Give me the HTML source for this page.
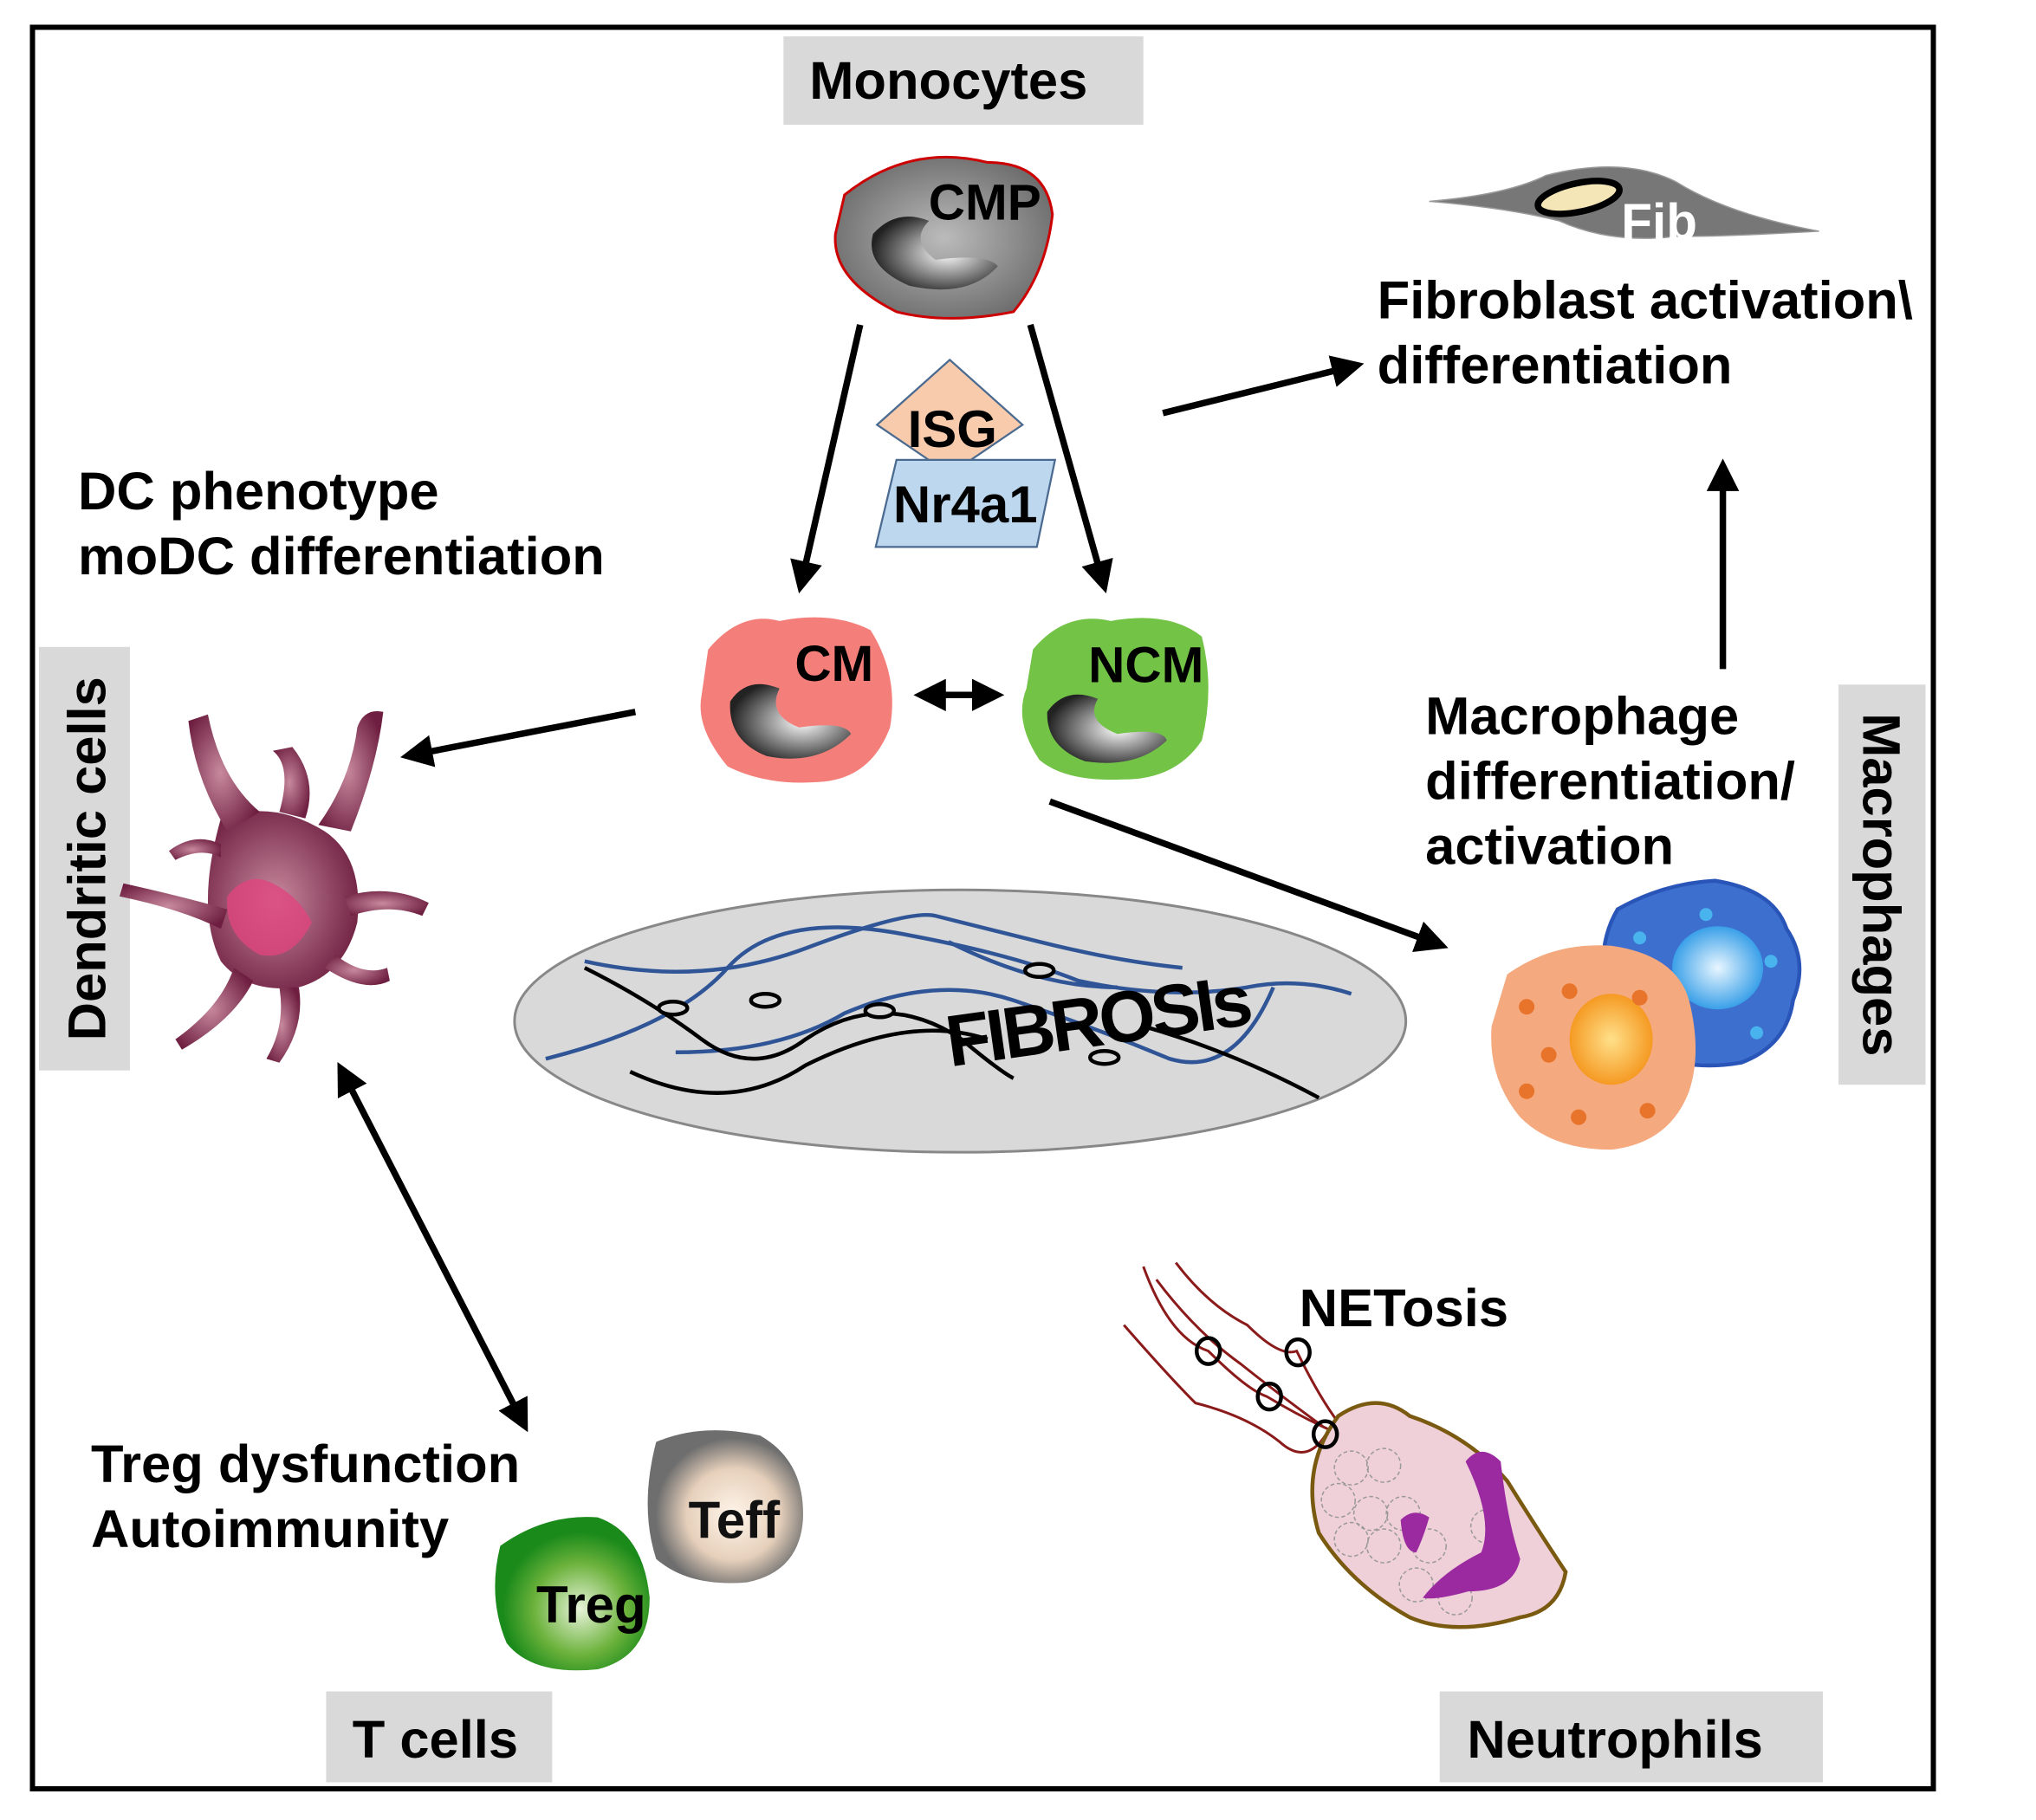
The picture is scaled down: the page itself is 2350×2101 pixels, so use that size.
<!DOCTYPE html>
<html><head><meta charset="utf-8"><style>
html,body{margin:0;padding:0;background:#fff;}
svg{display:block;}
text{font-family:"Liberation Sans",Arial,sans-serif;font-weight:bold;fill:#000;}
</style></head><body>
<svg width="2350" height="2101" viewBox="0 0 1567 1401" preserveAspectRatio="none" xmlns="http://www.w3.org/2000/svg">
<defs>
<marker id="ah" viewBox="0 0 10 10" refX="8" refY="5" markerWidth="5" markerHeight="5" orient="auto-start-reverse"><path d="M0,0 L10,5 L0,10 z" fill="#000"/></marker>
<radialGradient id="nuc" cx="0.6" cy="0.5" r="0.6"><stop offset="0" stop-color="#fff"/><stop offset="1" stop-color="#222"/></radialGradient>
<radialGradient id="cmpg" cx="0.5" cy="0.5" r="0.6"><stop offset="0" stop-color="#bbb"/><stop offset="1" stop-color="#666"/></radialGradient>
<radialGradient id="dcg" cx="0.45" cy="0.5" r="0.6"><stop offset="0" stop-color="#c7899d"/><stop offset="1" stop-color="#6e1e40"/></radialGradient>
<radialGradient id="teffg" cx="0.55" cy="0.55" r="0.5"><stop offset="0" stop-color="#fff5ea"/><stop offset="0.6" stop-color="#e6d0bb"/><stop offset="1" stop-color="#6e6e6e"/></radialGradient>
<radialGradient id="tregg" cx="0.55" cy="0.6" r="0.5"><stop offset="0" stop-color="#e6f3d8"/><stop offset="0.6" stop-color="#6cb23c"/><stop offset="1" stop-color="#1a8a1a"/></radialGradient>
<radialGradient id="org" cx="0.5" cy="0.5" r="0.5"><stop offset="0" stop-color="#ffe08a"/><stop offset="1" stop-color="#f59a23"/></radialGradient>
<radialGradient id="blg" cx="0.5" cy="0.5" r="0.5"><stop offset="0" stop-color="#e8f6ff"/><stop offset="1" stop-color="#3aa0e8"/></radialGradient>
</defs>
<rect x="25" y="21" width="1463" height="1356" fill="none" stroke="#000" stroke-width="4"/>

<rect x="603" y="28" width="277" height="68" fill="#d9d9d9"/>
<text x="730" y="76" font-size="41" text-anchor="middle">Monocytes</text>
<rect x="30" y="498" width="70" height="326" fill="#d9d9d9"/>
<text transform="translate(81,661) rotate(-90)" font-size="41" text-anchor="middle">Dendritic cells</text>
<rect x="1415" y="527" width="67" height="308" fill="#d9d9d9"/>
<text transform="translate(1434,681) rotate(90)" font-size="41" text-anchor="middle">Macrophages</text>
<rect x="251" y="1302" width="174" height="70" fill="#d9d9d9"/>
<text x="335" y="1353" font-size="41" text-anchor="middle">T cells</text>
<rect x="1108" y="1302" width="295" height="70" fill="#d9d9d9"/>
<text x="1243" y="1353" font-size="41" text-anchor="middle">Neutrophils</text>

<text x="1060" y="245" font-size="41">Fibroblast activation\</text>
<text x="1060" y="295" font-size="41">differentiation</text>
<text x="60" y="392" font-size="41">DC phenotype</text>
<text x="60" y="442" font-size="41">moDC differentiation</text>
<text x="1097" y="565" font-size="41">Macrophage</text>
<text x="1097" y="615" font-size="41">differentiation/</text>
<text x="1097" y="665" font-size="41">activation</text>
<text x="70" y="1141" font-size="41">Treg dysfunction</text>
<text x="70" y="1191" font-size="41">Autoimmunity</text>
<text x="1000" y="1021" font-size="41">NETosis</text>

<path d="M650,150 Q700,110 760,125 Q805,125 810,165 Q805,210 780,240 Q730,250 690,240 Q640,215 643,180 Z" fill="url(#cmpg)" stroke="#c00" stroke-width="2"/>
<path d="M672,180 Q690,160 715,170 Q700,185 720,200 Q760,195 768,205 Q745,230 700,220 Q665,205 672,180 Z" fill="url(#nuc)"/>
<text x="758" y="169" font-size="39" text-anchor="middle">CMP</text>

<path d="M1100,155 Q1160,150 1190,135 Q1250,120 1290,140 Q1330,165 1400,178 Q1330,182 1290,182 Q1240,188 1200,170 Q1160,160 1100,155 Z" fill="#777" stroke="#999"/>
<ellipse cx="1215" cy="152" rx="32" ry="11" transform="rotate(-12 1215 152)" fill="#f5e6b8" stroke="#000" stroke-width="5"/>
<text x="1277" y="184" font-size="39" text-anchor="middle" style="fill:#fff">Fib</text>

<polygon points="675,327 731,277 787,327 731,365" fill="#f8cbad" stroke="#4a6a90" stroke-width="1.5"/>
<text x="733" y="344" font-size="40" text-anchor="middle">ISG</text>
<polygon points="690,354 812,354 798,421 674,421" fill="#bdd7ee" stroke="#4a6a90" stroke-width="1.5"/>
<text x="743" y="402" font-size="40" text-anchor="middle">Nr4a1</text>

<g stroke="#000" stroke-width="5" fill="none" marker-end="url(#ah)">
<line x1="662" y1="250" x2="616" y2="452"/>
<line x1="793" y1="250" x2="850" y2="452"/>
<line x1="895" y1="318" x2="1045" y2="281"/>
<line x1="1326" y1="515" x2="1326" y2="358"/>
<line x1="489" y1="548" x2="313" y2="582"/>
<line x1="808" y1="617" x2="1110" y2="728"/>
<line x1="708" y1="535" x2="768" y2="535" marker-start="url(#ah)"/>
<line x1="262" y1="822" x2="404" y2="1098" marker-start="url(#ah)"/>
</g>

<path d="M545,500 Q570,470 600,478 Q640,470 670,485 Q692,520 685,560 Q670,600 630,602 Q590,605 560,590 Q535,560 540,535 Z" fill="#f47f7a"/>
<path d="M562,540 Q575,520 600,530 Q590,550 615,560 Q650,555 655,565 Q630,590 590,582 Q560,570 562,540 Z" fill="url(#nuc)"/>
<text x="642" y="524" font-size="39" text-anchor="middle">CM</text>
<path d="M795,500 Q820,470 855,478 Q900,470 925,490 Q935,530 925,570 Q905,600 865,600 Q820,602 800,585 Q780,555 790,530 Z" fill="#72c346"/>
<path d="M806,548 Q820,528 845,538 Q835,555 860,565 Q895,560 898,570 Q875,592 835,586 Q805,575 806,548 Z" fill="url(#nuc)"/>
<text x="882" y="525" font-size="39" text-anchor="middle">NCM</text>

<g fill="url(#dcg)" stroke="none">
<path d="M170,630 Q210,615 250,640 Q280,660 275,710 Q265,750 230,760 Q190,765 170,740 Q150,700 170,630 Z"/>
<path d="M175,640 Q150,600 145,555 L160,550 Q170,600 200,625 Z"/>
<path d="M215,625 Q225,590 210,578 L225,575 Q245,600 235,630 Z"/>
<path d="M245,635 Q270,600 275,560 Q280,545 295,548 Q290,590 270,640 Z"/>
<path d="M265,690 Q300,680 330,695 L325,705 Q300,695 270,705 Z"/>
<path d="M175,700 Q140,690 95,680 L92,690 Q140,700 170,715 Z"/>
<path d="M170,650 Q150,640 130,655 L135,662 Q155,652 170,660 Z"/>
<path d="M180,745 Q170,775 135,800 L140,808 Q180,785 195,755 Z"/>
<path d="M215,760 Q220,790 205,815 L215,818 Q235,790 230,760 Z"/>
<path d="M250,745 Q280,765 300,755 L298,745 Q280,752 258,735 Z"/>
</g>
<path d="M175,690 Q190,670 210,680 Q230,690 240,710 Q225,740 200,735 Q172,720 175,690 Z" fill="#e0457e" opacity="0.8"/>

<ellipse cx="739" cy="786" rx="343" ry="101" fill="#d9d9d9" stroke="#888" stroke-width="2"/>
<g fill="none" stroke="#2f5597" stroke-width="3">
<path d="M420,815 Q520,790 560,745 Q600,700 700,720 Q780,735 830,755 Q900,770 960,760 Q1000,752 1040,765"/>
<path d="M450,740 Q540,760 620,730 Q700,700 720,705 Q760,715 800,725 Q860,740 910,745"/>
<path d="M520,810 Q600,810 650,780 Q720,750 780,770 Q840,790 900,815 Q950,830 980,760"/>
<path d="M730,725 Q800,760 860,760"/>
</g>
<g fill="none" stroke="#000" stroke-width="3">
<path d="M450,745 Q500,770 540,800 Q580,830 620,800 Q680,760 740,800 Q770,825 780,830"/>
<path d="M485,825 Q560,860 620,820 Q700,780 760,800"/>
<path d="M880,790 Q950,810 1015,845"/>
</g>
<g fill="#d9d9d9" stroke="#000" stroke-width="3">
<ellipse cx="518" cy="776" rx="11" ry="5"/>
<ellipse cx="589" cy="770" rx="11" ry="5"/>
<ellipse cx="677" cy="778" rx="11" ry="5"/>
<ellipse cx="800" cy="747" rx="11" ry="5"/>
<ellipse cx="850" cy="814" rx="11" ry="5"/>
</g>
<text x="845" y="805" font-size="56" text-anchor="middle" transform="rotate(-8 845 790)" style="letter-spacing:-3px">FIBROSIs</text>

<path d="M1245,700 Q1280,680 1320,678 Q1365,685 1375,715 Q1392,740 1380,770 Q1375,805 1340,818 Q1300,825 1270,810 Q1240,790 1235,760 Q1230,725 1245,700 Z" fill="#3d6fcf" stroke="#2a55b8" stroke-width="3"/>
<ellipse cx="1322" cy="745" rx="35" ry="32" fill="url(#blg)"/>
<path d="M1160,750 Q1195,725 1240,728 Q1290,735 1300,770 Q1310,810 1300,840 Q1285,880 1240,885 Q1195,885 1170,860 Q1145,830 1148,790 Z" fill="#f4a97e"/>
<ellipse cx="1240" cy="800" rx="32" ry="35" fill="url(#org)"/>
<g fill="#e8732a"><circle cx="1175" cy="775" r="6"/><circle cx="1208" cy="763" r="6"/><circle cx="1262" cy="768" r="6"/><circle cx="1192" cy="812" r="6"/><circle cx="1175" cy="840" r="6"/><circle cx="1215" cy="860" r="6"/><circle cx="1268" cy="855" r="6"/></g>
<g fill="#49b3ee"><circle cx="1262" cy="722" r="5"/><circle cx="1313" cy="704" r="5"/><circle cx="1363" cy="740" r="5"/><circle cx="1352" cy="795" r="5"/></g>

<path d="M505,1110 Q540,1095 585,1105 Q620,1125 618,1170 Q615,1210 575,1218 Q530,1222 505,1200 Q492,1160 505,1110 Z" fill="url(#teffg)"/>
<text x="565" y="1184" font-size="40" text-anchor="middle" style="fill:#111">Teff</text>
<path d="M385,1190 Q420,1165 460,1168 Q495,1180 500,1230 Q500,1275 460,1285 Q410,1290 390,1265 Q375,1230 385,1190 Z" fill="url(#tregg)"/>
<text x="455" y="1249" font-size="40" text-anchor="middle">Treg</text>

<g fill="none" stroke="#8b1a1a" stroke-width="2">
<path d="M865,1020 Q900,1060 920,1080 Q960,1090 985,1110 Q1005,1128 1020,1105"/>
<path d="M880,975 Q900,1030 930,1040 Q960,1070 975,1075 Q1000,1090 1022,1100"/>
<path d="M905,972 Q930,1005 960,1020 Q985,1045 998,1040 Q1015,1075 1030,1095"/>
<path d="M890,985 Q920,1025 955,1050 Q980,1070 1018,1098"/>
</g>
<path d="M1030,1090 Q1060,1070 1085,1090 Q1130,1105 1160,1140 Q1185,1180 1205,1210 Q1200,1240 1170,1245 Q1120,1260 1085,1245 Q1040,1220 1015,1180 Q1000,1130 1030,1090 Z" fill="#efcfd8" stroke="#7a5a10" stroke-width="3"/>
<g fill="none" stroke="#999" stroke-width="1" stroke-dasharray="3,2">
<circle cx="1040" cy="1130" r="13"/><circle cx="1065" cy="1128" r="13"/><circle cx="1030" cy="1155" r="13"/><circle cx="1055" cy="1165" r="13"/><circle cx="1080" cy="1165" r="13"/><circle cx="1040" cy="1185" r="13"/><circle cx="1065" cy="1190" r="13"/><circle cx="1090" cy="1220" r="13"/><circle cx="1120" cy="1230" r="13"/><circle cx="1145" cy="1175" r="13"/><circle cx="1100" cy="1190" r="13"/>
</g>
<path d="M1128,1125 Q1140,1110 1155,1125 Q1160,1170 1170,1200 Q1165,1225 1130,1225 Q1105,1232 1095,1230 Q1110,1210 1140,1195 Q1150,1170 1128,1125 Z" fill="#9b2aa0"/>
<path d="M1078,1170 Q1088,1160 1100,1168 Q1095,1185 1090,1195 Q1080,1195 1078,1170 Z" fill="#9b2aa0"/>
<g fill="none" stroke="#000" stroke-width="3">
<ellipse cx="930" cy="1040" rx="9" ry="10"/><ellipse cx="999" cy="1041" rx="9" ry="10"/><ellipse cx="977" cy="1075" rx="9" ry="10"/><ellipse cx="1020" cy="1104" rx="9" ry="10"/>
</g>
</svg>
</body></html>
